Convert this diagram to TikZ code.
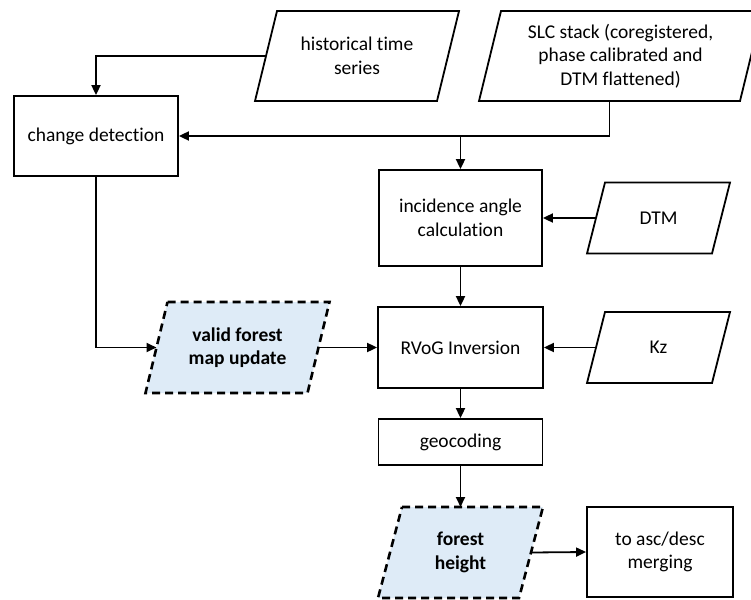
\documentclass[tikz,border=0pt]{standalone}
\usepackage{fontspec}
\setmainfont{Carlito}[Ligatures=NoCommon]
\usetikzlibrary{arrows.meta,backgrounds,calc}
\tikzset{
	->,
	>={Triangle[length=10pt,width=9pt]},
}
\definecolor{lightblue}{HTML}{DEEBF7}

\begin{document}
\begin{tikzpicture}[
            x=1pt, y=-1pt,
            line width=1.8pt,
            font=\fontsize{19.5}{23.5}\selectfont,
            process/.style={draw, -, line width=1.8pt, align=center, inner sep=0pt},
            data/.style={-, align=center, inner sep=0pt, outer sep=0pt},
            bold/.style={font=\fontsize{19.5}{23.5}\selectfont\bfseries},
            dataline/.style={-, line width=1.8pt},
            result/.style={-, line width=2.6pt, dash pattern=on 8pt off 5pt, fill=lightblue}
        ]
        \useasboundingbox (0,0) rectangle (751,599);

        % processing steps
        \node[process, minimum width=164pt, minimum height=80pt] (change) at (96,136) {change detection};
        \node[process, minimum width=163pt, minimum height=96pt] (incid) at (460.5,218) {incidence angle\\calculation};
        \node[process, minimum width=165pt, minimum height=81pt] (rvog) at (460.5,347.5) {RVoG Inversion};
        \node[process, minimum width=164pt, minimum height=46pt] (geo) at (460.5,442) {geocoding};
        \node[process, minimum width=146pt, minimum height=90pt] (merge) at (660,552) {to asc/desc\\merging};

        % data
        \node[data, minimum width=182pt, minimum height=90pt] (hist) at (357,56) {historical time\\series};
        \node[data, minimum width=261pt, minimum height=90pt] (slc) at (620.5,56) {SLC stack (coregistered,\\phase calibrated and\\DTM flattened)};
        \node[data, minimum width=125pt, minimum height=71pt] (dtm) at (658.5,218) {DTM};
        \node[data, minimum width=125pt, minimum height=71pt] (kz) at (658.5,347.5) {Kz};
        \node[data, bold, minimum width=162pt, minimum height=91pt] (valid) at (237.5,347.5) {valid forest\\map update};
        \node[data, bold, minimum width=141pt, minimum height=91pt] (fheight) at (460.5,552.5) {forest\\height};

        % parallelogram outlines
        \begin{scope}[on background layer]
            \foreach \n/\s in {hist/22,slc/22,dtm/18,kz/18}
                \draw[dataline] ([xshift=\s/2]\n.north west) -- ([xshift=\s/2]\n.north east)
                    -- ([xshift=-\s/2]\n.south east) -- ([xshift=-\s/2]\n.south west) -- cycle;
            \foreach \n/\s in {valid/22,fheight/24}
                \draw[result] ([xshift=\s/2]\n.north west) -- ([xshift=\s/2]\n.north east)
                    -- ([xshift=-\s/2]\n.south east) -- ([xshift=-\s/2]\n.south west) -- cycle;
        \end{scope}

        % connectors
        \draw (hist.west) -| (change.north);
        \draw ([xshift=-11pt]slc.south) |- (change.east);
        \coordinate (split) at (incid.north |- change.east);
        \draw (split) -- (incid.north);
        \draw (dtm.west) -- (incid.east);
        \draw (incid.south) -- (rvog.north);
        \draw (kz.west) -- (rvog.east);
        \draw (change.south) |- (valid.west);
        \draw (valid.east) -- (rvog.west);
        \draw (rvog.south) -- (geo.north);
        \draw (geo.south) -- (geo.south |- fheight.north);
        \draw (fheight.east) -- (merge.west);
    \end{tikzpicture}
\end{document}
